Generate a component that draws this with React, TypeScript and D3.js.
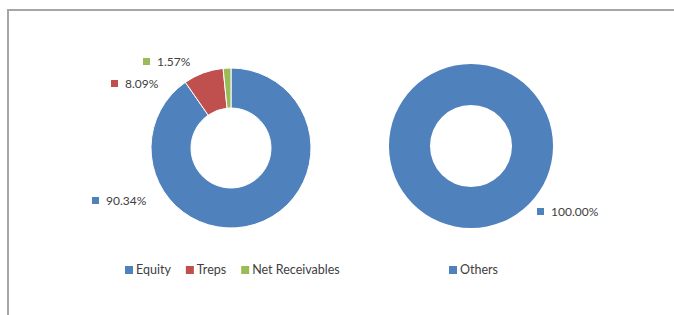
import React, { useRef, useEffect } from "react";
import * as d3 from "d3";

// left donut
const leftCategories = ["Equity", "Treps", "Net Receivables"];
const leftValues = [90.34, 8.09, 1.57];
const leftColors = ["#4f81bd", "#c0504d", "#9bbb59"];

// right donut
const rightCategories = ["Others"];
const rightValues = [100.0];
const rightColors = ["#4f81bd"];

const W = 674;
const H = 315;
const FONT = "Lato, 'Open Sans', sans-serif";

const App = () => {
  const svgRef = useRef<SVGSVGElement>(null);

  useEffect(() => {
    const svg = d3.select(svgRef.current);
    svg.selectAll("*").remove();

    svg
      .append("rect")
      .attr("width", W)
      .attr("height", H)
      .attr("fill", "#ffffff");

    // frame (top and left edges visible)
    svg
      .append("path")
      .attr("d", `M8,${H} L8,10 L${W},10`)
      .attr("fill", "none")
      .attr("stroke", "#a6a6a6")
      .attr("stroke-width", 2);

    const pie = d3
      .pie<number>()
      .sort(null)
      .value((d) => d);

    const drawDonut = (
      values: number[],
      colors: string[],
      cx: number,
      cy: number,
      r: number,
      labelPos: [number, number][]
    ) => {
      const arc = d3
        .arc<d3.PieArcDatum<number>>()
        .innerRadius(r * 0.5)
        .outerRadius(r);
      const g = svg.append("g").attr("transform", `translate(${cx},${cy})`);
      g.selectAll("path")
        .data(pie(values))
        .join("path")
        .attr("d", arc)
        .attr("fill", (_, i) => colors[i])
        .attr("stroke", values.length > 1 ? "#ffffff" : "none")
        .attr("stroke-width", 1);

      // data labels (Excel best-fit style)
      const lbl = svg
        .append("g")
        .selectAll("g")
        .data(values)
        .join("g")
        .attr(
          "transform",
          (_, i) => `translate(${cx + labelPos[i][0]},${cy + labelPos[i][1]})`
        );
      lbl
        .append("rect")
        .attr("x", 0)
        .attr("y", -4)
        .attr("width", 7)
        .attr("height", 7)
        .attr("fill", (_, i) => colors[i]);
      lbl
        .append("text")
        .attr("x", 14)
        .attr("y", 0)
        .attr("dy", "0.35em")
        .attr("font-family", FONT)
        .attr("font-size", 12)
        .attr("fill", "#404040")
        .text((d) => `${d.toFixed(2)}%`);
    };

    drawDonut(leftValues, leftColors, 231, 148, 80, [
      [-139, 53],
      [-120, -64],
      [-88, -86],
    ]);
    drawDonut(rightValues, rightColors, 471, 146, 82, [[66, 66]]);

    const drawLegend = (
      cats: string[],
      colors: string[],
      x0: number,
      y: number,
      gaps: number
    ) => {
      let x = x0;
      const lg = svg.append("g");
      cats.forEach((c, i) => {
        lg.append("rect")
          .attr("x", x)
          .attr("y", y - 4)
          .attr("width", 8)
          .attr("height", 8)
          .attr("fill", colors[i]);
        const t = lg
          .append("text")
          .attr("x", x + 11)
          .attr("y", y)
          .attr("dy", "0.35em")
          .attr("font-family", FONT)
          .attr("font-size", 12.5)
          .attr("fill", "#404040")
          .text(c);
        const w = (t.node() as SVGTextElement).getComputedTextLength();
        x += 11 + w + gaps;
      });
    };

    drawLegend(leftCategories, leftColors, 125, 270, 15);
    drawLegend(rightCategories, rightColors, 449, 270, 15);
  }, []);

  return (
    <svg
      ref={svgRef}
      width={W}
      height={H}
      style={{ position: "absolute", left: 0, top: 0 }}
    />
  );
};

export default App;
